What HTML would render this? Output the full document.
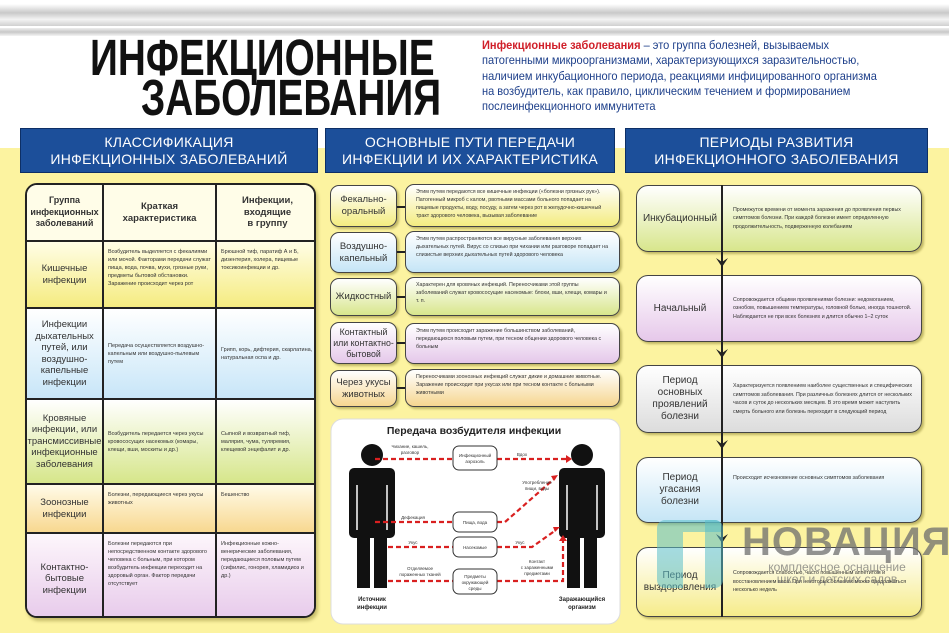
<!DOCTYPE html>
<html><head><meta charset="utf-8"><style>
*{margin:0;padding:0;box-sizing:border-box}
body{width:949px;height:633px;position:relative;overflow:hidden;background:#fff;font-family:"Liberation Sans","DejaVu Sans",sans-serif;color:#222}
.a{position:absolute}
.band1{left:0;top:4px;width:949px;height:22px;background:linear-gradient(#fff,#c9c9c9 40%,#f3f3f3 70%,#d0d0d0)}
.band2{left:0;top:28px;width:949px;height:8px;background:linear-gradient(#eee,#c8c8c8,#f5f5f5)}
.yel{left:0;top:148px;width:949px;height:485px;background:#fcf3a0}
.hd{background:#1c4f9a;color:#fff;text-align:center;font-size:14px;line-height:17px;padding-top:5px;letter-spacing:.3px;border:1px solid #0d2f66}
.tt{font-weight:bold;font-size:51px;line-height:44px;color:#111;letter-spacing:0;transform:scaleX(.76);transform-origin:0 0;white-space:nowrap}
.desc{left:482px;top:38px;font-size:12px;line-height:15.3px;color:#1d3f8a;white-space:nowrap;transform:scaleX(.92);transform-origin:0 0}
.desc b{color:#d0202a}
.tbl{left:25px;top:183px;width:291px;height:435px;border:2px solid #222;border-radius:12px;overflow:hidden;background:#fff;box-shadow:2px 3px 3px rgba(120,110,30,.4)}
.r{position:absolute;left:0;width:291px;border-bottom:2px solid #222;display:flex}
.c{height:100%;display:flex;align-items:center;justify-content:center;text-align:center;font-size:9px;line-height:11.5px;color:#333}
.c1{width:77px;border-right:2px solid #222;font-size:9.5px}
.c2{width:113px;border-right:2px solid #222;font-size:5.5px;line-height:8px;text-align:left;align-items:flex-start;justify-content:flex-start;padding:6px 4px}
.c3{flex:1;font-size:5.5px;line-height:8px;text-align:left;align-items:flex-start;justify-content:flex-start;padding:6px 4px}
.bx{border:1.5px solid #444;border-radius:9px;box-shadow:2px 2px 2px rgba(120,110,30,.45)}
.ml{left:330px;width:67px;display:flex;align-items:center;justify-content:center;text-align:center;font-size:9.5px;line-height:12px;color:#333}
.mr{left:405px;width:215px;font-size:5.3px;line-height:8px;padding:3px 10px;color:#333}
.arr{left:397px;width:8px;height:0;border-top:2px solid #222}
.rp{left:636px;width:286px;display:flex;border-radius:12px}
.rp .l{width:86px;display:flex;align-items:center;justify-content:center;text-align:center;font-size:10px;line-height:12px;color:#333}
.rp .t{flex:1;font-size:5.3px;line-height:8.5px;padding:0 8px 0 10px;display:flex;align-items:center;color:#333}
</style></head><body>
<div class="a band1"></div><div class="a band2"></div>
<div class="a yel"></div>
<div class="a" style="left:0;top:120px;width:949px;height:28px;background:#fff"></div>
<div class="a tt" style="left:90px;top:36px">ИНФЕКЦИОННЫЕ</div>
<div class="a tt" style="left:141px;top:76px">ЗАБОЛЕВАНИЯ</div>
<div class="a desc"><b>Инфекционные заболевания</b> – это группа болезней, вызываемых<br>патогенными микроорганизмами, характеризующихся заразительностью,<br>наличием инкубационного периода, реакциями инфицированного организма<br>на возбудитель, как правило, циклическим течением и формированием<br>послеинфекционного иммунитета</div>

<div class="a hd" style="left:20px;top:128px;width:298px;height:45px">КЛАССИФИКАЦИЯ<br>ИНФЕКЦИОННЫХ ЗАБОЛЕВАНИЙ</div>
<div class="a hd" style="left:325px;top:128px;width:290px;height:45px">ОСНОВНЫЕ ПУТИ ПЕРЕДАЧИ<br>ИНФЕКЦИИ И ИХ ХАРАКТЕРИСТИКА</div>
<div class="a hd" style="left:625px;top:128px;width:303px;height:45px">ПЕРИОДЫ РАЗВИТИЯ<br>ИНФЕКЦИОННОГО ЗАБОЛЕВАНИЯ</div>

<div class="a tbl">
<div class="r" style="top:0;height:57px;background:#fffde8"><div class="c c1" style="font-weight:bold;font-size:9px">Группа<br>инфекционных<br>заболеваний</div><div class="c" style="width:113px;border-right:2px solid #222;font-weight:bold;font-size:9.5px">Краткая<br>характеристика</div><div class="c" style="flex:1;font-weight:bold;font-size:9.5px">Инфекции,<br>входящие<br>в группу</div></div>
<div class="r" style="top:57px;height:67px;background:linear-gradient(#fffde6,#f5ec80)"><div class="c c1">Кишечные<br>инфекции</div><div class="c c2">Возбудитель выделяется с фекалиями или мочой. Факторами передачи служат пища, вода, почва, мухи, грязные руки, предметы бытовой обстановки. Заражение происходит через рот</div><div class="c c3">Брюшной тиф, паратиф А и Б, дизентерия, холера, пищевые токсикоинфекции и др.</div></div>
<div class="r" style="top:124px;height:91px;background:linear-gradient(#fff,#c8e6f8)"><div class="c c1">Инфекции<br>дыхательных<br>путей, или<br>воздушно-<br>капельные<br>инфекции</div><div class="c c2" style="align-items:center">Передача осуществляется воздушно-капельным или воздушно-пылевым путем</div><div class="c c3" style="align-items:center">Грипп, корь, дифтерия, скарлатина, натуральная оспа и др.</div></div>
<div class="r" style="top:215px;height:85px;background:linear-gradient(#fff,#d6e68a)"><div class="c c1">Кровяные<br>инфекции, или<br>трансмиссивные<br>инфекционные<br>заболевания</div><div class="c c2" style="align-items:center">Возбудитель передается через укусы кровососущих насекомых (комары, клещи, вши, москиты и др.)</div><div class="c c3" style="align-items:center">Сыпной и возвратный тиф, малярия, чума, туляремия, клещевой энцефалит и др.</div></div>
<div class="r" style="top:300px;height:49px;background:linear-gradient(#fffbe8,#f8d890)"><div class="c c1">Зоонозные<br>инфекции</div><div class="c c2">Болезни, передающиеся через укусы животных</div><div class="c c3">Бешенство</div></div>
<div class="r" style="top:349px;height:90px;border:none;background:linear-gradient(#fdf6fb,#e6c8ea)"><div class="c c1">Контактно-<br>бытовые<br>инфекции</div><div class="c c2">Болезни передаются при непосредственном контакте здорового человека с больным, при котором возбудитель инфекции переходит на здоровый орган. Фактор передачи отсутствует</div><div class="c c3">Инфекционные кожно-венерические заболевания, передающиеся половым путем (сифилис, гонорея, хламидиоз и др.)</div></div>
</div>

<div class="a bx ml" style="top:185px;height:42px;background:linear-gradient(#fff,#f4ec80)">Фекально-<br>оральный</div>
<div class="a arr" style="top:206px"></div>
<div class="a bx mr" style="top:184px;height:43px;background:linear-gradient(#fff,#f4ec80)">Этим путем передаются все кишечные инфекции («болезни грязных рук»). Патогенный микроб с калом, рвотными массами больного попадает на пищевые продукты, воду, посуду, а затем через рот в желудочно-кишечный тракт здорового человека, вызывая заболевание</div>
<div class="a bx ml" style="top:232px;height:41px;background:linear-gradient(#fff,#c5e5f6)">Воздушно-<br>капельный</div>
<div class="a arr" style="top:251px"></div>
<div class="a bx mr" style="top:231px;height:42px;background:linear-gradient(#fff,#c5e5f6)">Этим путем распространяются все вирусные заболевания верхних дыхательных путей. Вирус со слизью при чихании или разговоре попадает на слизистые верхних дыхательных путей здорового человека</div>
<div class="a bx ml" style="top:278px;height:38px;background:linear-gradient(#fff,#d8e68c)">Жидкостный</div>
<div class="a arr" style="top:296px"></div>
<div class="a bx mr" style="top:277px;height:39px;background:linear-gradient(#fff,#d8e68c)">Характерен для кровяных инфекций. Переносчиками этой группы заболеваний служат кровососущие насекомые: блохи, вши, клещи, комары и т. п.</div>
<div class="a bx ml" style="top:322px;height:42px;background:linear-gradient(#fff,#e5c8ea);font-size:8.8px;line-height:11px">Контактный<br>или контактно-<br>бытовой</div>
<div class="a arr" style="top:342px"></div>
<div class="a bx mr" style="top:323px;height:41px;background:linear-gradient(#fff,#e5c8ea)">Этим путем происходит заражение большинством заболеваний, передающихся половым путем, при тесном общении здорового человека с больным</div>
<div class="a bx ml" style="top:370px;height:37px;background:linear-gradient(#fff,#f6d690)">Через укусы<br>животных</div>
<div class="a arr" style="top:387px"></div>
<div class="a bx mr" style="top:369px;height:38px;background:linear-gradient(#fff,#f6d690)">Переносчиками зоонозных инфекций служат дикие и домашние животные. Заражение происходит при укусах или при тесном контакте с больными животными</div>

<svg class="a" style="left:330px;top:418px" width="292" height="208" viewBox="330 418 292 208">
<rect x="331" y="419" width="289" height="205" rx="12" fill="#fff" stroke="#ddd" stroke-width="1"/>
<text x="474" y="434" font-size="10.5" font-weight="bold" text-anchor="middle" fill="#222" font-family="Liberation Sans">Передача возбудителя инфекции</text>
<g fill="#111">
<circle cx="372" cy="455" r="11"/><rect x="349" y="468" width="46" height="70" rx="5"/><rect x="357" y="530" width="13" height="58"/><rect x="374" y="530" width="13" height="58"/>
<circle cx="582" cy="455" r="11"/><rect x="559" y="468" width="46" height="70" rx="5"/><rect x="567" y="530" width="13" height="58"/><rect x="584" y="530" width="13" height="58"/>
</g>
<g stroke="#fff" stroke-width="1.5"><line x1="357" y1="485" x2="357" y2="530"/><line x1="387" y1="485" x2="387" y2="530"/><line x1="567" y1="485" x2="567" y2="530"/><line x1="597" y1="485" x2="597" y2="530"/></g>
<g stroke="#d92020" stroke-width="2.2" stroke-dasharray="5,3" fill="none">
<path d="M375 459H453M497 459H568"/>
<path d="M375 522H453M497 522H505L555 478"/>
<path d="M388 547H453M497 547H532L556 530"/>
<path d="M388 581H453M497 581H563V540"/>
</g>
<g fill="#d92020"><path d="M572 459l-6-4v8z"/><path d="M558 475l-7 1 3 5z"/><path d="M560 527l-7 0 2 5z"/><path d="M563 535l-4 6h8z"/></g>
<g fill="#fff" stroke="#333" stroke-width="1"><rect x="453" y="446" width="44" height="24" rx="6"/><rect x="453" y="512" width="44" height="20" rx="6"/><rect x="453" y="537" width="44" height="20" rx="6"/><rect x="453" y="569" width="44" height="25" rx="6"/></g>
<g font-size="4.5" text-anchor="middle" fill="#333" font-family="Liberation Sans">
<text x="475" y="457">Инфекционный</text><text x="475" y="463">аэрозоль</text>
<text x="475" y="524">Пища, вода</text><text x="475" y="549">Насекомые</text>
<text x="475" y="578">Предметы</text><text x="475" y="584">окружающей</text><text x="475" y="590">среды</text>
<text x="410" y="448">Чихание, кашель,</text><text x="410" y="454">разговор</text>
<text x="522" y="456">Вдох</text>
<text x="537" y="484">Употребление</text><text x="537" y="490">пищи, воды</text>
<text x="413" y="519">Дефекация</text><text x="413" y="544">Укус</text><text x="520" y="544">Укус</text>
<text x="420" y="570">Отделяемое</text><text x="420" y="576">пораженных тканей</text>
<text x="537" y="563">Контакт</text><text x="537" y="569">с зараженными</text><text x="537" y="575">предметами</text>
</g>
<g font-size="6" font-weight="bold" text-anchor="middle" fill="#222" font-family="Liberation Sans">
<text x="372" y="601">Источник</text><text x="372" y="609">инфекции</text>
<text x="582" y="601">Заражающийся</text><text x="582" y="609">организм</text></g>
</svg>

<div class="a bx rp" style="top:185px;height:67px;background:linear-gradient(#fff,#d8e68c)"><div class="l">Инкубационный</div><div class="t">Промежуток времени от момента заражения до проявления первых симптомов болезни. При каждой болезни имеет определенную продолжительность, подверженную колебаниям</div></div>
<div class="a bx rp" style="top:275px;height:67px;background:linear-gradient(#fff,#e6c8ea)"><div class="l">Начальный</div><div class="t">Сопровождается общими проявлениями болезни: недомоганием, ознобом, повышением температуры, головной болью, иногда тошнотой. Наблюдается не при всех болезнях и длится обычно 1–2 суток</div></div>
<div class="a bx rp" style="top:365px;height:68px;background:linear-gradient(#fff,#dcdcdc)"><div class="l">Период<br>основных<br>проявлений<br>болезни</div><div class="t">Характеризуется появлением наиболее существенных и специфических симптомов заболевания. При различных болезнях длится от нескольких часов и суток до нескольких месяцев. В это время может наступить смерть больного или болезнь переходит в следующий период</div></div>
<div class="a bx rp" style="top:457px;height:66px;background:linear-gradient(#fff,#c5e5f6)"><div class="l">Период<br>угасания<br>болезни</div><div class="t" style="align-items:flex-start;padding-top:16px">Происходит исчезновение основных симптомов заболевания</div></div>
<div class="a bx rp" style="top:547px;height:70px;background:linear-gradient(#fff,#f6ec8a)"><div class="l">Период<br>выздоровления</div><div class="t">Сопровождается слабостью, часто повышенным аппетитом и восстановлением веса. При некоторых болезнях может продолжаться несколько недель</div></div>
<div class="a" style="left:721px;top:185px;width:2px;height:432px;background:#222"></div>
<svg class="a" style="left:716px;top:258px" width="12" height="290"><g fill="#222"><path d="M0 0l6 9 6-9-6 4z"/><path d="M0 91l6 9 6-9-6 4z"/><path d="M0 182l6 9 6-9-6 4z"/><path d="M0 276l6 9 6-9-6 4z"/></g></svg>

<div class="a" style="left:657px;top:520px;width:26px;height:68px;background:rgba(90,190,200,.55);border-radius:8px 0 0 8px"></div>
<div class="a" style="left:683px;top:520px;width:38px;height:12px;background:rgba(90,190,200,.55);border-radius:0 6px 0 0"></div>
<div class="a" style="left:705px;top:520px;width:18px;height:68px;background:rgba(90,190,200,.55);border-radius:0 8px 8px 0"></div>
<div class="a" style="left:742px;top:522px;font-size:40px;line-height:40px;font-weight:bold;color:rgba(110,110,110,.75);letter-spacing:1px">НОВАЦИЯ</div>
<div class="a" style="left:762px;top:561px;font-size:12px;line-height:12px;color:rgba(110,110,110,.7);text-align:center;width:150px">комплексное оснащение<br>школ и детских садов</div>
</body></html>
